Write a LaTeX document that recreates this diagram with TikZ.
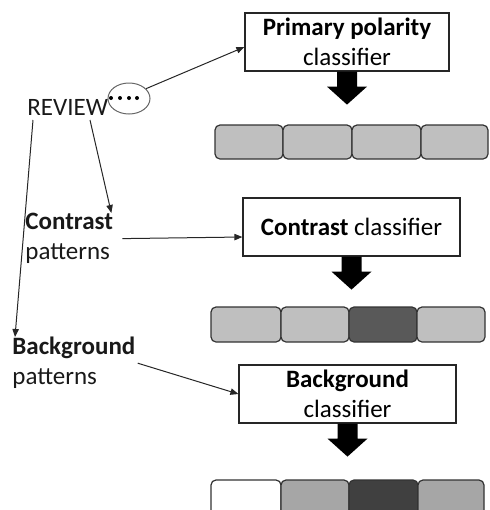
\documentclass[tikz,border=0pt]{standalone}
\usepackage{fontspec}
\setmainfont{Carlito}
\usetikzlibrary{arrows.meta,calc,shapes.geometric}

\definecolor{cellgray}{HTML}{BFBFBF}
\definecolor{midgray}{HTML}{A6A6A6}
\definecolor{darkgray}{HTML}{595959}
\definecolor{darkergray}{HTML}{404040}

\tikzset{
  txt/.style={inner sep=0pt, font=\fontsize{12.5}{15}\selectfont, text=black!90},
  clsbox/.style={draw=black!85, line width=0.6pt, fill=white, align=center,
    minimum height=29pt, inner sep=0pt, font=\fontsize{12.5}{15}\selectfont},
  link/.style={draw=black!85, line width=0.5pt,
    -{Triangle[length=4pt,width=3.2pt]}},
  cell/.style={draw=black!80, line width=0.6pt, rounded corners=2.5pt},
}

% thick downward block arrow starting at a node's south anchor
\newcommand\downblock[1]{%
  \fill[black] ($(#1)+(-10,0)$) -- ($(#1)+(10,0)$) -- ($(#1)+(10,15)$)
    -- ($(#1)+(20,15)$) -- ($(#1)+(0,33)$) -- ($(#1)+(-20,15)$)
    -- ($(#1)+(-10,15)$) -- cycle;}

\begin{document}
\begin{tikzpicture}[x=0.5pt,y=-0.5pt]
\useasboundingbox (0,0) rectangle (489,510);
\clip (0,0) rectangle (489,510);

% classifier boxes
\node[clsbox, minimum width=102pt] (b1) at (347,42)
  {\textbf{Primary polarity}\\classifier};
\node[clsbox, minimum width=108.5pt] (b2) at (351.5,227)
  {\textbf{Contrast} classifier};
\node[clsbox, minimum width=108.5pt] (b3) at (347.5,394)
  {\textbf{Background}\\classifier};

% block arrows to the output rows
\downblock{b1.south}
\downblock{b2.south}
\downblock{b3.south}

% output rows
\draw[cell, fill=cellgray] (215,125) rectangle (283,159);
\draw[cell, fill=cellgray] (283,125) rectangle (352,159);
\draw[cell, fill=cellgray] (352,125) rectangle (421,159);
\draw[cell, fill=cellgray] (421,125) rectangle (488,159);

\draw[cell, fill=cellgray] (211,307) rectangle (281,342);
\draw[cell, fill=cellgray] (281,307) rectangle (349,342);
\draw[cell, fill=darkgray] (349,307) rectangle (417,342);
\draw[cell, fill=cellgray] (417,307) rectangle (485,342);

\draw[cell, fill=white] (211,480) rectangle (281,516);
\draw[cell, fill=midgray] (281,480) rectangle (349,516);
\draw[cell, fill=darkergray] (349,480) rectangle (418,516);
\draw[cell, fill=midgray] (418,480) rectangle (484,516);

% review and pattern labels
\node[txt, anchor=base west] (rev) at (27,115) {REVIEW};
\node[ellipse, draw=black!60, line width=0.5pt, minimum width=21pt,
  minimum height=15.5pt, inner sep=0pt] (ell) at (129,98.5) {};
\foreach \dx in {111,120,129,137}
  \fill[black] (\dx,98) circle (1pt);

\node[txt, anchor=north west, align=left] (cp) at (25,213)
  {\textbf{Contrast}\\patterns};
\node[txt, anchor=north west, align=left] (bp) at (12,337)
  {\textbf{Background}\\patterns};

% connectors
\draw[link] (ell.30) -- ($(b1.west)+(0,5)$);
\draw[link] ($(rev.base west)+(63,5)$) -- ($(cp.north east)+(-2,0)$);
\draw[link] ($(rev.base west)+(6,5)$) -- ($(bp.north west)+(3,0)$);
\draw[link] ($(cp.east)+(9,0)$) -- ($(b2.west)+(0,10)$);
\draw[link] ($(bp.east)+(2,0)$) -- (b3.west);
\end{tikzpicture}
\end{document}
